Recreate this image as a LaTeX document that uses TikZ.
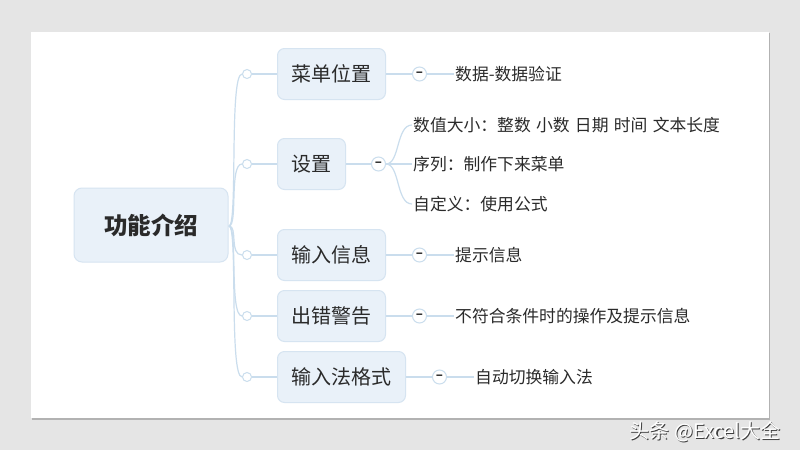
\documentclass[tikz,border=0pt]{standalone}
\usepackage{fontspec}
\setmainfont{Noto Sans CJK SC}
\usetikzlibrary{positioning}

\definecolor{slidegray}{HTML}{E5E5E5}
\definecolor{boxfill}{HTML}{E9F1F9}
\definecolor{boxline}{HTML}{D6E4F1}
\definecolor{branch}{HTML}{CADDED}
\definecolor{ink}{HTML}{2A2A2A}

\begin{document}
\begin{tikzpicture}[x=1pt,y=-1pt,
  every node/.style={text=ink},
  rootbox/.style={draw=boxline,fill=boxfill,line width=1pt,rounded corners=8pt,
    minimum width=154pt,minimum height=74pt,font=\fontsize{23.5}{24}\selectfont\bfseries},
  topicbox/.style={draw=boxline,fill=boxfill,line width=1pt,rounded corners=7pt,
    minimum height=51pt,inner xsep=14pt,anchor=west,font=\fontsize{20}{20}\selectfont},
  joint/.style={circle,draw=branch,fill=white,line width=1pt,minimum size=9pt,inner sep=0pt},
  fold/.style={circle,draw=branch,fill=white,line width=1pt,minimum size=14pt,inner sep=0pt,
    font=\fontsize{13}{13}\selectfont\bfseries},
  leaf/.style={inner xsep=1pt,inner ysep=0pt,anchor=west,font=\fontsize{16.8}{17}\selectfont},
  branchline/.style={draw=branch,line width=1.2pt}]

  \useasboundingbox (0,0) rectangle (800,450);

  % Grey backdrop and white slide
  \fill[slidegray] (0,0) rectangle (800,450);
  \fill[black!30] (32,33) rectangle (770,419.5);
  \fill[white] (31,32) rectangle (769,418);

  % Central topic
  \node[rootbox] (root) at (151,225) {功能介绍};

  % Main topics
  \node[topicbox] (menu)  at (277,74)  {菜单位置};
  \node[topicbox] (setup) at (277,164) {设置};
  \node[topicbox] (input) at (277,255) {输入信息};
  \node[topicbox] (error) at (277,316) {出错警告};
  \node[topicbox] (ime)   at (277,377) {输入法格式};

  % Joints in front of the main topics
  \node[joint] (jmenu)  at (247,74)  {};
  \node[joint] (jsetup) at (247,164) {};
  \node[joint] (jinput) at (247,255) {};
  \node[joint] (jerror) at (247,316) {};
  \node[joint] (jime)   at (247,377) {};

  % Curves from the central topic
  \coordinate (hub) at (229,226);
  \foreach \j in {jmenu,jsetup,jinput,jerror,jime}
    \draw[branchline] (hub) .. controls +(9,0) and +(-13,0) .. (\j.west);

  % Joints to main topics
  \draw[branchline] (jmenu)  -- (menu);
  \draw[branchline] (jsetup) -- (setup);
  \draw[branchline] (jinput) -- (input);
  \draw[branchline] (jerror) -- (error);
  \draw[branchline] (jime)   -- (ime);

  % Fold buttons
  \node[fold, right=26pt of menu]  (fmenu)  {–};
  \node[fold, right=25pt of setup] (fsetup) {–};
  \node[fold, right=26pt of input] (finput) {–};
  \node[fold, right=26pt of error] (ferror) {–};
  \node[fold, right=26pt of ime]   (fime)   {–};

  \draw[branchline] (menu)  -- (fmenu);
  \draw[branchline] (setup) -- (fsetup);
  \draw[branchline] (input) -- (finput);
  \draw[branchline] (error) -- (ferror);
  \draw[branchline] (ime)   -- (fime);

  % Leaves
  \node[leaf, right=27pt of fmenu] (lmenu) {数据-数据验证};
  \node[leaf] (lsize) at (412,125) {数值大小：整数\hspace{5.3pt}小数\hspace{5.3pt}日期\hspace{5.3pt}时间\hspace{5.3pt}文本长度};
  \node[leaf] (llist) at (412,164) {序列：制作下来菜单};
  \node[leaf] (lself) at (412,204) {自定义：使用公式};
  \node[leaf, right=27pt of finput] (linput) {提示信息};
  \node[leaf, right=27pt of ferror] (lerror) {不符合条件时的操作及提示信息};
  \node[leaf, right=27pt of fime]   (lime)   {自动切换输入法};

  \draw[branchline] (fmenu)  -- (lmenu);
  \draw[branchline] (finput) -- (linput);
  \draw[branchline] (ferror) -- (lerror);
  \draw[branchline] (fime)   -- (lime);
  \foreach \l in {lsize,llist,lself}
    \draw[branchline] (fsetup.east) .. controls +(14,0) and +(-16,0) .. (\l.west);

  % Watermark
  \node[text=black!75, font=\fontsize{20}{20}\selectfont] (markshadow) at (706.2,433.2) {头条 @Excel大全};
  \node[text=white, font=\fontsize{20}{20}\selectfont] (mark) at (705,432) {头条 @Excel大全};

\end{tikzpicture}
\end{document}
